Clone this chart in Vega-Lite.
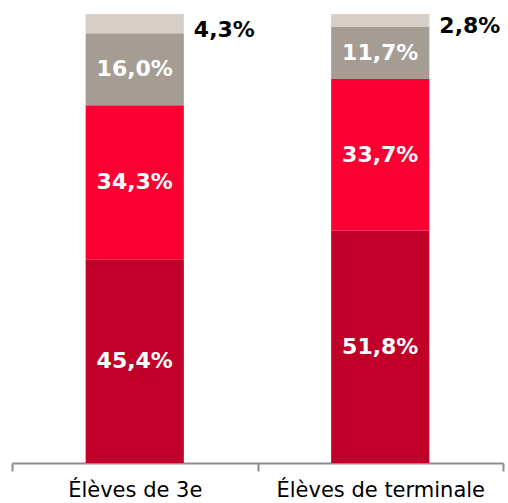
{
  "$schema": "https://vega.github.io/schema/vega-lite/v6.json",
  "width": 491,
  "height": 449,
  "autosize": "none",
  "padding": {"left": 12, "top": 14, "right": 5, "bottom": 40},
  "config": {"view": {"stroke": null}},
  "data": {"values": [
    {"cat": "Élèves de 3e", "seg": "a", "order": 1, "value": 45.4, "label": "45,4%"},
    {"cat": "Élèves de 3e", "seg": "b", "order": 2, "value": 34.3, "label": "34,3%"},
    {"cat": "Élèves de 3e", "seg": "c", "order": 3, "value": 16.0, "label": "16,0%"},
    {"cat": "Élèves de 3e", "seg": "d", "order": 4, "value": 4.3, "label": "4,3%"},
    {"cat": "Élèves de terminale", "seg": "a", "order": 1, "value": 51.8, "label": "51,8%"},
    {"cat": "Élèves de terminale", "seg": "b", "order": 2, "value": 33.7, "label": "33,7%"},
    {"cat": "Élèves de terminale", "seg": "c", "order": 3, "value": 11.7, "label": "11,7%"},
    {"cat": "Élèves de terminale", "seg": "d", "order": 4, "value": 2.8, "label": "2,8%"}
  ]},
  "transform": [
    {"stack": "value", "groupby": ["cat"], "sort": [{"field": "order"}], "as": ["v0", "v1"]},
    {"calculate": "(datum.v0 + datum.v1) / 2", "as": "mid"}
  ],
  "encoding": {
    "x": {
      "field": "cat", "type": "nominal", "sort": null,
      "scale": {"paddingInner": 0, "paddingOuter": 0},
      "axis": {
        "title": null, "labelAngle": 0, "tickBand": "extent",
        "domainColor": "#8c8c8c", "domainWidth": 2,
        "tickColor": "#8c8c8c", "tickWidth": 2, "tickSize": 8,
        "labelFont": "DejaVu Sans", "labelFontSize": 21, "labelColor": "#000000",
        "labelPadding": 8, "labelLimit": 0
      }
    }
  },
  "layer": [
    {
      "mark": {"type": "bar", "width": {"band": 0.4}},
      "encoding": {
        "y": {"field": "v0", "type": "quantitative", "scale": {"domain": [0, 100]}, "axis": null},
        "y2": {"field": "v1"},
        "color": {
          "field": "seg", "type": "nominal", "legend": null,
          "scale": {"domain": ["a", "b", "c", "d"], "range": ["#C00029", "#FA0032", "#A59C94", "#D6CEC7"]}
        }
      }
    },
    {
      "transform": [{"filter": "datum.seg != 'd'"}],
      "mark": {"type": "text", "font": "DejaVu Sans", "fontWeight": "bold", "fontSize": 22, "color": "white", "baseline": "middle"},
      "encoding": {
        "y": {"field": "mid", "type": "quantitative"},
        "text": {"field": "label"}
      }
    },
    {
      "transform": [{"filter": "datum.seg == 'd'"}],
      "mark": {"type": "text", "font": "DejaVu Sans", "fontWeight": "bold", "fontSize": 22, "color": "black", "align": "left", "baseline": "middle", "dx": 10, "dy": 6},
      "encoding": {
        "x": {"field": "cat", "type": "nominal", "sort": null, "bandPosition": 0.7},
        "y": {"field": "mid", "type": "quantitative"},
        "text": {"field": "label"}
      }
    }
  ]
}
